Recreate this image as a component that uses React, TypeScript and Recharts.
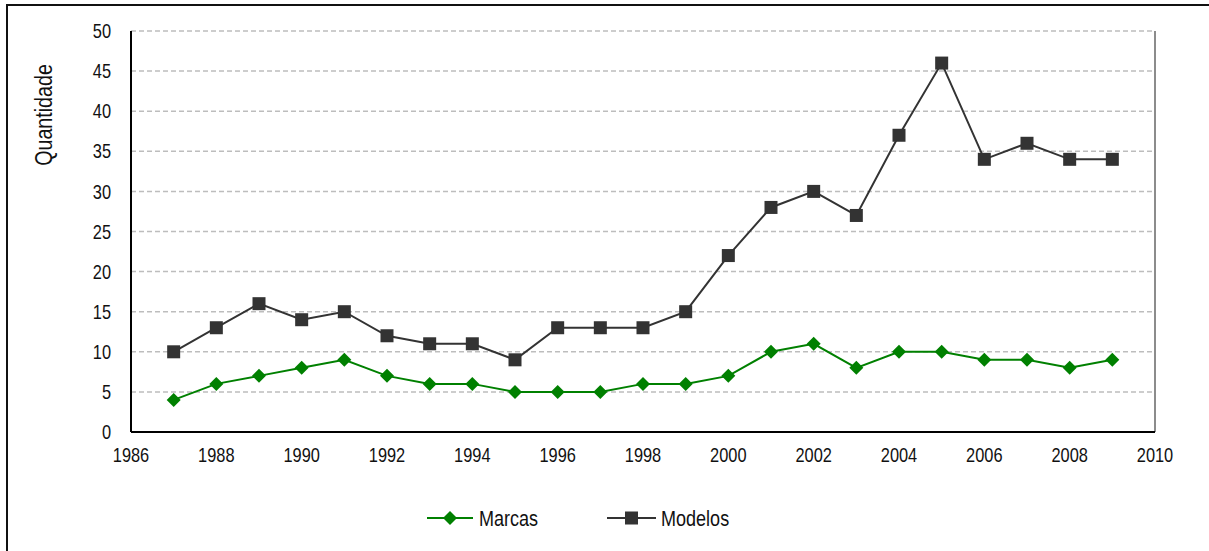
import { LineChart, Line, XAxis, YAxis, CartesianGrid, Legend, ReferenceLine } from "recharts";

const YEARS = [1987, 1988, 1989, 1990, 1991, 1992, 1993, 1994, 1995, 1996, 1997, 1998, 1999, 2000, 2001, 2002, 2003, 2004, 2005, 2006, 2007, 2008, 2009];
const MARCAS = [4, 6, 7, 8, 9, 7, 6, 6, 5, 5, 5, 6, 6, 7, 10, 11, 8, 10, 10, 9, 9, 8, 9];
const MODELOS = [10, 13, 16, 14, 15, 12, 11, 11, 9, 13, 13, 13, 15, 22, 28, 30, 27, 37, 46, 34, 36, 34, 34];
const X_TICKS = [1986, 1988, 1990, 1992, 1994, 1996, 1998, 2000, 2002, 2004, 2006, 2008, 2010];
const Y_TICKS = [0, 5, 10, 15, 20, 25, 30, 35, 40, 45, 50];

const data = YEARS.map((year, i) => ({ year, marcas: MARCAS[i], modelos: MODELOS[i] }));

const FONT = '"Liberation Sans", Arial, sans-serif';
const GREEN = "#008000";
const DARK = "#333333";
const TEXT = "#111";
const SQUEEZE = 0.82; // the original font is a narrow Arial

// eslint-disable-next-line @typescript-eslint/no-explicit-any
function XTick(props: any) {
  const { x, y, payload } = props;
  return (
    <text transform={`translate(${x},${y}) scale(${SQUEEZE},1)`} textAnchor="middle" dy="0.71em" fontSize={20} fill={TEXT} fontFamily={FONT}>
      {payload.value}
    </text>
  );
}

// eslint-disable-next-line @typescript-eslint/no-explicit-any
function YTick(props: any) {
  const { x, y, payload } = props;
  return (
    <text transform={`translate(${x},${y}) scale(${SQUEEZE},1)`} textAnchor="end" dy="0.355em" fontSize={20} fill={TEXT} fontFamily={FONT}>
      {payload.value}
    </text>
  );
}

// eslint-disable-next-line @typescript-eslint/no-explicit-any
function Diamond(props: any) {
  const { cx, cy } = props;
  if (cx == null || cy == null) return null;
  const r = 7;
  return <polygon points={`${cx},${cy - r} ${cx + r},${cy} ${cx},${cy + r} ${cx - r},${cy}`} fill={GREEN} />;
}

// eslint-disable-next-line @typescript-eslint/no-explicit-any
function Square(props: any) {
  const { cx, cy } = props;
  if (cx == null || cy == null) return null;
  return <rect x={cx - 6.5} y={cy - 6.5} width={13} height={13} fill={DARK} />;
}

function LegendContent() {
  return (
    <svg width={1209} height={60} style={{ display: "block" }}>
      <g transform="translate(427,27)">
        <line x1={0} y1={0} x2={46} y2={0} stroke={GREEN} strokeWidth={2} />
        <polygon points="23,-7 30,0 23,7 16,0" fill={GREEN} />
        <text transform={`translate(52,0) scale(${SQUEEZE},1)`} dy="0.355em" fontSize={22} fill={TEXT} fontFamily={FONT}>
          Marcas
        </text>
      </g>
      <g transform="translate(607,27)">
        <line x1={0} y1={0} x2={49} y2={0} stroke={DARK} strokeWidth={2} />
        <rect x={18} y={-6.5} width={13} height={13} fill={DARK} />
        <text transform={`translate(54,0) scale(${SQUEEZE},1)`} dy="0.355em" fontSize={22} fill={TEXT} fontFamily={FONT}>
          Modelos
        </text>
      </g>
    </svg>
  );
}

export default function App() {
  return (
    <div style={{ position: "absolute", left: 0, top: 0, width: 1209, height: 551, background: "#fff", overflow: "hidden" }}>
      <div style={{ position: "absolute", left: 6, top: 4, width: 1220, height: 560, borderLeft: "2px solid #111", borderTop: "2px solid #111" }} />
      <LineChart width={1209} height={551} data={data} margin={{ top: 31, right: 54, left: 0, bottom: 0 }}>
        <CartesianGrid vertical={false} stroke="#bdbdbd" strokeDasharray="5 3" strokeWidth={1.5} />
        <XAxis
          dataKey="year"
          type="number"
          domain={[1986, 2010]}
          ticks={X_TICKS}
          height={59}
          tickLine={false}
          tickSize={0}
          tickMargin={16}
          axisLine={{ stroke: "#000", strokeWidth: 2 }}
          tick={<XTick />}
        />
        <YAxis
          type="number"
          domain={[0, 50]}
          ticks={Y_TICKS}
          width={131}
          tickLine={false}
          tickSize={0}
          tickMargin={20}
          axisLine={{ stroke: "#000", strokeWidth: 2 }}
          tick={<YTick />}
          label={{
            content: () => (
              <text transform={`translate(52,115) rotate(-90) scale(${SQUEEZE},1)`} textAnchor="middle" fontSize={24} fill={TEXT} fontFamily={FONT}>
                Quantidade
              </text>
            ),
          }}
        />
        <ReferenceLine x={2010} stroke="#8c8c8c" strokeWidth={2} />
        <Line
          type="linear"
          dataKey="marcas"
          name="Marcas"
          stroke={GREEN}
          strokeWidth={2}
          dot={<Diamond />}
          activeDot={false}
          isAnimationActive={false}
        />
        <Line
          type="linear"
          dataKey="modelos"
          name="Modelos"
          stroke={DARK}
          strokeWidth={2}
          dot={<Square />}
          activeDot={false}
          isAnimationActive={false}
        />
        <Legend verticalAlign="bottom" height={60} content={<LegendContent />} />
      </LineChart>
    </div>
  );
}
